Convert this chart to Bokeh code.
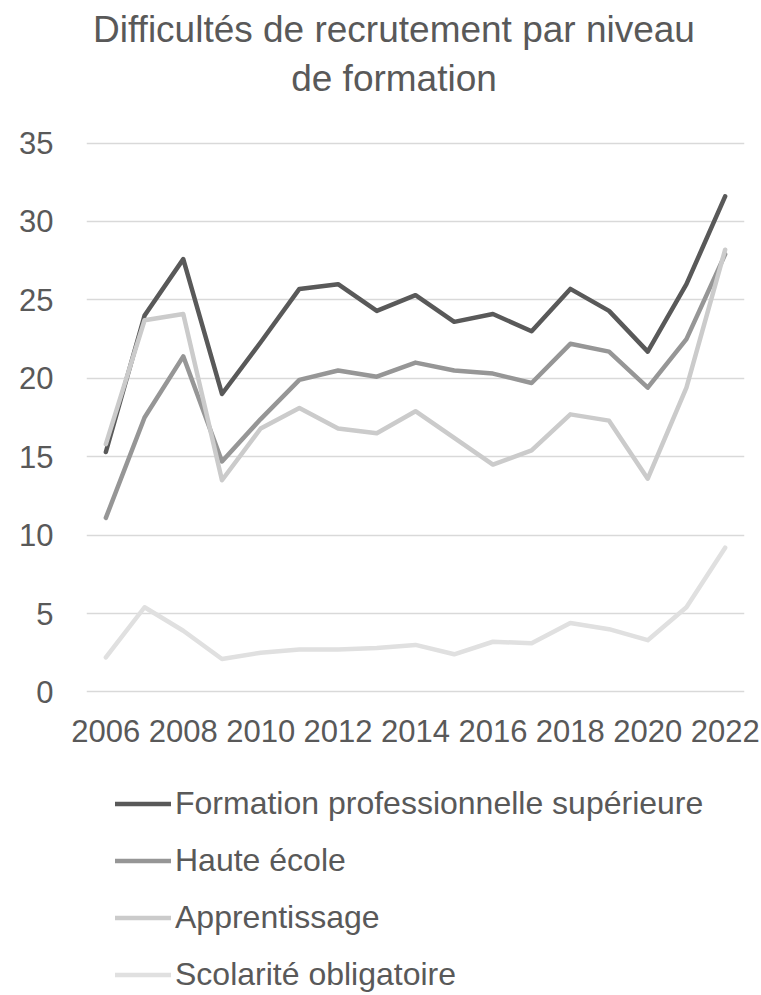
from bokeh.plotting import figure
from bokeh.layouts import column
from bokeh.models import Range1d, FixedTicker, Legend, LegendItem, Label
from bokeh.embed import file_html
from bokeh.resources import INLINE

# ---- data ----
years = list(range(2006, 2023))
tick_years = [2006, 2008, 2010, 2012, 2014, 2016, 2018, 2020, 2022]
y_ticks = [0, 5, 10, 15, 20, 25, 30, 35]

series_names = [
    "Formation professionnelle supérieure",
    "Haute école",
    "Apprentissage",
    "Scolarité obligatoire",
]
formation_sup = [15.3, 24.0, 27.6, 19.0, 22.3, 25.7, 26.0, 24.3, 25.3, 23.6, 24.1, 23.0, 25.7, 24.3, 21.7, 26.0, 31.6]
haute_ecole = [11.1, 17.5, 21.4, 14.7, 17.4, 19.9, 20.5, 20.1, 21.0, 20.5, 20.3, 19.7, 22.2, 21.7, 19.4, 22.5, 27.9]
apprentissage = [15.8, 23.7, 24.1, 13.5, 16.8, 18.1, 16.8, 16.5, 17.9, 16.2, 14.5, 15.4, 17.7, 17.3, 13.6, 19.4, 28.2]
scolarite = [2.2, 5.4, 3.9, 2.1, 2.5, 2.7, 2.7, 2.8, 3.0, 2.4, 3.2, 3.1, 4.4, 4.0, 3.3, 5.4, 9.2]

title_lines = ["Difficultés de recrutement par niveau", "de formation"]

colors = ["#595959", "#969696", "#cbcbcb", "#e0e0e0"]
text_color = "#595959"
FONT = "Liberation Sans"
W = 761
BL, BR = 86, 17          # shared left / right borders (frames are aligned in the column)


def bare(fig):
    fig.outline_line_color = None
    fig.background_fill_color = "white"
    fig.border_fill_color = "white"
    return fig


# ---------- title strip (pixel-space ranges) ----------
TH = 116
tfig = bare(figure(width=W, height=TH, x_range=Range1d(BL, W - BR), y_range=Range1d(TH, 0),
                   x_axis_location=None, y_axis_location=None,
                   output_backend="svg", toolbar_location=None,
                   min_border_left=BL, min_border_right=BR, min_border_top=0, min_border_bottom=0))
tfig.grid.visible = False
for txt, ypos in zip(title_lines, [29, 78]):
    tfig.add_layout(Label(x=393.5, y=ypos, text=txt, text_align="center",
                          text_baseline="middle", text_font=FONT,
                          text_font_size="37px", text_color=text_color))

# ---------- main chart ----------
MH = 649
p = bare(figure(
    width=W, height=MH,
    x_range=Range1d(2005.5, 2022.5), y_range=Range1d(-0.1, 35.1),
    output_backend="svg", toolbar_location=None,
    min_border_left=BL, min_border_right=BR,
    min_border_top=25, min_border_bottom=72,
))
p.xaxis.ticker = FixedTicker(ticks=tick_years)
p.yaxis.ticker = FixedTicker(ticks=y_ticks)
for ax in (p.xaxis[0], p.yaxis[0]):
    ax.axis_line_color = None
    ax.major_tick_line_color = None
    ax.minor_tick_line_color = None
    ax.major_tick_out = 0
    ax.major_tick_in = 0
    ax.major_label_text_font = FONT
    ax.major_label_text_font_size = "31px"
    ax.major_label_text_color = text_color
p.xaxis.major_label_standoff = 26
p.yaxis.major_label_standoff = 33
p.xgrid.grid_line_color = None
p.ygrid.grid_line_color = "#d9d9d9"
p.ygrid.grid_line_width = 1.5

series = [formation_sup, haute_ecole, apprentissage, scolarite]
for vals, col in zip(series, colors):
    p.line(years, vals, line_color=col, line_width=4.5, line_join="round", line_cap="round")

# ---------- legend strip ----------
LH = 230
lfig = bare(figure(width=W, height=LH, x_range=Range1d(0, 1), y_range=Range1d(0, 1),
                   x_axis_location=None, y_axis_location=None,
                   output_backend="svg", toolbar_location=None,
                   min_border_left=BL, min_border_right=BR, min_border_top=0, min_border_bottom=0))
lfig.grid.visible = False
items = []
for name, vals, col in zip(series_names, series, colors):
    # same series, lying outside this strip's ranges: only its legend swatch shows
    r = lfig.line(years, vals, line_color=col, line_width=4.5, line_cap="round")
    items.append(LegendItem(label=name, renderers=[r]))
legend = Legend(
    items=items, location=(29, 2.5), orientation="vertical",
    glyph_width=56, glyph_height=37, label_height=37, spacing=20,
    label_standoff=4, padding=0, margin=0,
    label_text_font=FONT, label_text_font_size="32px", label_text_color=text_color,
    border_line_color=None, background_fill_alpha=0,
)
lfig.add_layout(legend, "center")

layout = column(tfig, p, lfig, spacing=0)
open("out.html", "w").write(file_html(layout, INLINE))
